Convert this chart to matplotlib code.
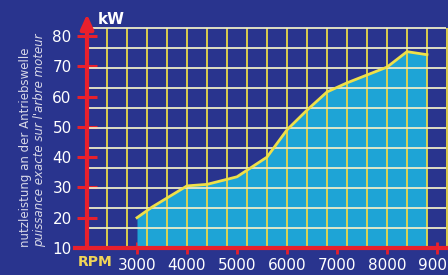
import numpy as np
import matplotlib.pyplot as plt

# engine power curve (RPM -> kW)
rpm = [3000, 3300, 4000, 4400, 5000, 5600, 6000, 6400, 6800, 7200, 8000, 8400, 8800]
kw = [20, 23.5, 30.5, 31, 33.5, 40, 49, 55.5, 61.5, 64.5, 69.7, 74.8, 73.8]

x_ticks = [3000, 4000, 5000, 6000, 7000, 8000, 9000]
y_ticks = [10, 20, 30, 40, 50, 60, 70, 80]

bg = '#29348e'
red = '#e8202c'
yellow = '#f0e048'

fig = plt.figure(figsize=(4.48, 2.75), dpi=100, facecolor=bg)
ax = fig.add_axes([87 / 448, 27 / 275, 361 / 448, 248 / 275])
ax.set_facecolor(bg)
ax.set_xlim(2000, 9220)
ax.set_ylim(10, 91.85)

# grid (not aligned with the ticks in the original)
gx = np.arange(2400, 9201, 400)
gy = 10 + 6.6 * np.arange(1, 12)
ax.vlines(gx, 10, gy[-1], color='#e8d848', lw=1.3, zorder=3)
ax.hlines(gy, 2000, 9180, color='#ecebc8', lw=1.3, zorder=3)

# area + curve
ax.fill_between(rpm, kw, 10, color='#1ea4d6', zorder=2, lw=0)
ax.plot(rpm, kw, color=yellow, lw=2, zorder=4)

# red axes
for s in ['top', 'right', 'bottom']:
    ax.spines[s].set_visible(False)
ax.spines['left'].set_color(red)
ax.spines['left'].set_linewidth(3)
ax.spines['left'].set_bounds(10, 84)
ax.spines['left'].set_zorder(5)
ax.annotate('', xy=(2000, 88), xytext=(2000, 83),
            arrowprops=dict(arrowstyle='-|>,head_length=0.7,head_width=0.32',
                            color=red, lw=3, mutation_scale=12), zorder=6)
ax.plot([1760, 9220], [10, 10], color=red, lw=3, clip_on=False, zorder=5)

ax.set_yticks(y_ticks)
ax.set_xticks(x_ticks)
ax.tick_params(axis='y', direction='inout', length=14, width=2.2, color=red,
               labelcolor='white', labelsize=11, pad=4)
ax.tick_params(axis='x', direction='inout', length=8, width=2, color=red,
               labelcolor='white', labelsize=11, pad=3)
for t in ax.get_xticklines() + ax.get_yticklines():
    t.set_zorder(6)

fig.text(98 / 448, 1 - 20 / 275, 'kW', color='white', fontsize=11,
         fontweight='bold', va='center', ha='left')
fig.text(78 / 448, 1 - 262 / 275, 'RPM', color='#f0d458', fontsize=10,
         fontweight='bold', va='center', ha='left')
fig.text(26 / 448, 1 - 247 / 275, 'nutzleistung an der Antriebswelle',
         color='#d8d8e8', fontsize=8.5, rotation=90, ha='center', va='bottom')
fig.text(40 / 448, 1 - 247 / 275, "puissance exacte sur l'arbre moteur",
         color='#d8d8e8', fontsize=8.5, style='italic', rotation=90,
         ha='center', va='bottom')

fig.savefig('out.png', dpi=100, facecolor=bg)
